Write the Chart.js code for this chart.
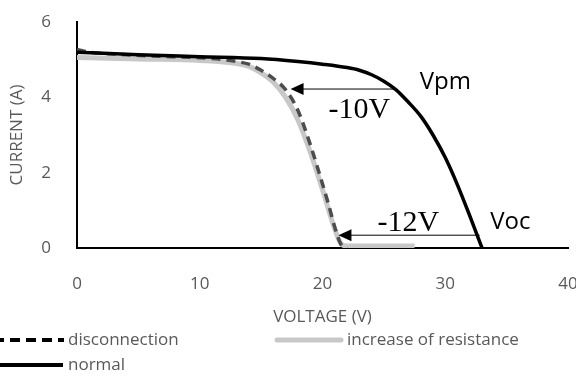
<!DOCTYPE html>
<html>
<head>
<meta charset="utf-8">
<script src="https://cdn.jsdelivr.net/npm/chart.js@4"></script>
<style>
  html, body { margin: 0; padding: 0; background: #fff; overflow: hidden; }
</style>
</head>
<body>
<canvas id="chart" width="576" height="378"></canvas>
<script>
// I-V curves (voltage in V, current in A)
const normalV = [0, 5, 10, 15, 18, 20, 22, 23, 24, 25, 26, 27, 28, 29, 30, 31, 32, 33];
const normalI = [5.2, 5.13, 5.08, 5.03, 4.95, 4.88, 4.79, 4.72, 4.6, 4.43, 4.2, 3.87, 3.5, 3.0, 2.4, 1.67, 0.85, 0];

const discV = [0, 1, 3, 6, 10, 12, 13, 14, 15, 16, 17, 18, 19, 20, 20.5, 21, 21.5, 22];
const discI = [5.27, 5.2, 5.15, 5.1, 5.05, 5.0, 4.95, 4.88, 4.72, 4.5, 4.2, 3.65, 2.75, 1.7, 1.15, 0.55, 0.1, 0];

const resV = [0, 5, 10, 13, 14, 15, 16, 17, 18, 19, 20, 21, 21.5, 22, 27.5];
const resI = [5.06, 5.02, 4.98, 4.9, 4.82, 4.65, 4.4, 4.0, 3.4, 2.55, 1.55, 0.5, 0.12, 0.05, 0.05];

const xTicks = [0, 10, 20, 30, 40];
const yTicks = [0, 2, 4, 6];

// arrows: [fromV, toV, atI]
const arrows = [[26.0, 17.4, 4.22], [32.8, 21.3, 0.34]];
// labels: [text, V, I, serif]
const notes = [
    ['-10V', 23.0, 3.66, true],
    ['Vpm', 30.0, 4.4, false],
    ['-12V', 27.0, 0.66, true],
    ['Voc', 35.3, 0.69, false]
];

const grey = '#595959';
const sans = "'Open Sans', sans-serif";

function pts(xs, ys) {
    return xs.map((x, i) => ({ x: x, y: ys[i] }));
}

const annotatePlugin = {
    id: 'annotate',
    afterDatasetsDraw(chart) {
        const ctx = chart.ctx;
        const sx = chart.scales.x, sy = chart.scales.y;
        ctx.save();
        ctx.strokeStyle = '#000';
        ctx.fillStyle = '#000';
        ctx.lineWidth = 1;
        arrows.forEach(a => {
            const x1 = sx.getPixelForValue(a[0]);
            const x2 = sx.getPixelForValue(a[1]);
            const y = sy.getPixelForValue(a[2]);
            ctx.beginPath();
            ctx.moveTo(x1, y);
            ctx.lineTo(x2 + 10, y);
            ctx.stroke();
            ctx.beginPath();
            ctx.moveTo(x2, y);
            ctx.lineTo(x2 + 13, y - 6);
            ctx.lineTo(x2 + 13, y + 6);
            ctx.closePath();
            ctx.fill();
        });
        ctx.textAlign = 'center';
        ctx.textBaseline = 'middle';
        notes.forEach(n => {
            ctx.font = n[3] ? "30px 'Liberation Serif', serif" : "24px " + sans;
            ctx.fillStyle = '#000';
            ctx.fillText(n[0], sx.getPixelForValue(n[1]), sy.getPixelForValue(n[2]));
        });
        ctx.restore();
    },
    afterDraw(chart) {
        // legend, drawn by hand to keep the clipped layout of the original
        const ctx = chart.ctx;
        ctx.save();
        ctx.font = "17px " + sans;
        ctx.fillStyle = grey;
        ctx.textBaseline = 'middle';
        ctx.textAlign = 'left';

        ctx.strokeStyle = '#000';
        ctx.lineWidth = 4;
        ctx.setLineDash([10, 6]);
        ctx.beginPath();
        ctx.moveTo(-6, 340);
        ctx.lineTo(64, 340);
        ctx.stroke();
        ctx.setLineDash([]);
        ctx.fillText('disconnection', 68, 340);

        ctx.strokeStyle = '#c8c8c8';
        ctx.lineWidth = 5;
        ctx.lineCap = 'round';
        ctx.beginPath();
        ctx.moveTo(277, 340);
        ctx.lineTo(341, 340);
        ctx.stroke();
        ctx.fillText('increase of resistance', 347, 340);

        ctx.strokeStyle = '#000';
        ctx.lineWidth = 4;
        ctx.lineCap = 'butt';
        ctx.beginPath();
        ctx.moveTo(0, 365);
        ctx.lineTo(63, 365);
        ctx.stroke();
        ctx.fillText('normal', 68, 365);
        ctx.restore();
    }
};

new Chart(document.getElementById('chart').getContext('2d'), {
    type: 'line',
    data: {
        datasets: [
            {
                label: 'normal',
                data: pts(normalV, normalI),
                borderColor: '#000',
                borderWidth: 3.5,
                pointRadius: 0,
                cubicInterpolationMode: 'monotone',
                order: 1
            },
            {
                label: 'increase of resistance',
                data: pts(resV, resI),
                borderColor: '#c8c8c8',
                borderWidth: 5,
                pointRadius: 0,
                cubicInterpolationMode: 'monotone',
                order: 3
            },
            {
                label: 'disconnection',
                data: pts(discV, discI),
                borderColor: '#4d4d4d',
                borderWidth: 3.5,
                borderDash: [9, 6],
                pointRadius: 0,
                cubicInterpolationMode: 'monotone',
                order: 2
            }
        ]
    },
    options: {
        responsive: false,
        animation: false,
        layout: {
            autoPadding: false,
            padding: { left: 3, right: 8, top: 22, bottom: 50 }
        },
        plugins: {
            legend: { display: false },
            tooltip: { enabled: false }
        },
        scales: {
            x: {
                type: 'linear',
                min: 0,
                max: 40,
                afterBuildTicks: s => { s.ticks = xTicks.map(v => ({ value: v })); },
                afterFit: s => { s.height = 80; s.paddingLeft = 0; s.paddingRight = 0; },
                grid: { display: false, drawTicks: false },
                border: { color: '#000', width: 2 },
                ticks: { color: grey, font: { family: sans, size: 17 }, padding: 26 },
                title: { display: true, text: 'VOLTAGE (V)', color: grey, font: { family: sans, size: 17 }, padding: { top: 1, bottom: 1 } }
            },
            y: {
                min: 0,
                max: 6,
                afterBuildTicks: s => { s.ticks = yTicks.map(v => ({ value: v })); },
                afterFit: s => { s.width = 74; s.paddingTop = 0; s.paddingBottom = 0; },
                grid: { display: false, drawTicks: false },
                border: { color: '#000', width: 2 },
                ticks: { color: grey, font: { family: sans, size: 17 }, padding: 26 },
                title: { display: true, text: 'CURRENT (A)', color: grey, font: { family: sans, size: 17 } }
            }
        }
    },
    plugins: [annotatePlugin]
});
</script>
</body>
</html>
